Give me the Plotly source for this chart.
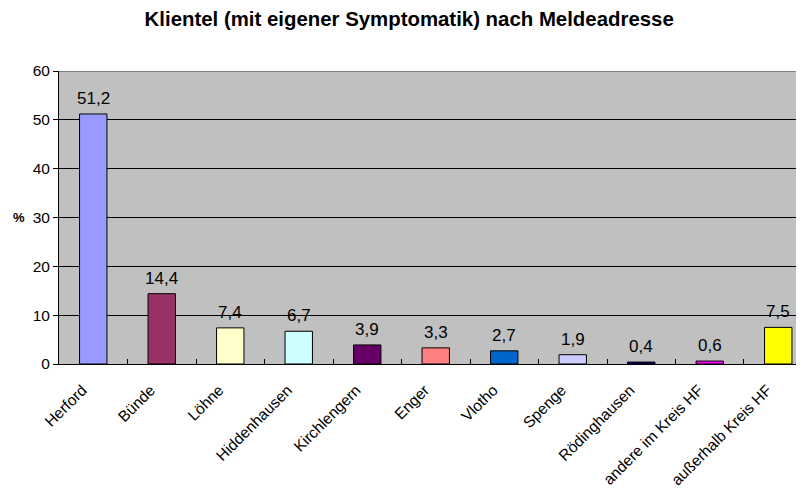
import plotly.graph_objects as go

orte = ["Herford", "Bünde", "Löhne", "Hiddenhausen", "Kirchlengern", "Enger",
        "Vlotho", "Spenge", "Rödinghausen", "andere im Kreis HF", "außerhalb Kreis HF"]
anteil = [51.2, 14.4, 7.4, 6.7, 3.9, 3.3, 2.7, 1.9, 0.4, 0.6, 7.5]
farben = ["#9999FF", "#993366", "#FFFFCC", "#CCFFFF", "#660066", "#FF8080",
          "#0066CC", "#CCCCFF", "#000080", "#FF00FF", "#FFFF00"]
beschriftung = [f"{v:.1f}".replace(".", ",") for v in anteil]

schrift = "Liberation Sans, Arial"

fig = go.Figure()
fig.add_trace(go.Bar(
    x=orte, y=anteil,
    marker=dict(color=farben, line=dict(color="black", width=1)),
    hoverinfo="x+y",
))

# Werte über den Balken
for ort, wert, txt in zip(orte, anteil, beschriftung):
    fig.add_annotation(x=ort, y=wert, text=txt, showarrow=False, yanchor="bottom",
                       yshift=4, font=dict(family=schrift, size=17, color="black"))

# obere Rahmenlinie
fig.add_shape(type="line", xref="paper", yref="y", x0=0, x1=1, y0=60, y1=60,
              line=dict(color="#808080", width=2))

fig.add_annotation(text="<b>%</b>", xref="paper", yref="y", x=-0.044, y=30,
                   showarrow=False, xanchor="right", borderpad=0,
                   font=dict(family=schrift, size=13, color="black"))

fig.update_layout(
    title=dict(text="<b>Klientel (mit eigener Symptomatik) nach Meldeadresse</b>",
               x=0.504, xref="container", y=0.977, yref="container",
               xanchor="center", yanchor="middle",
               font=dict(family=schrift, size=20.4, color="black")),
    width=796, height=487,
    margin=dict(l=51, r=0, t=63, b=131),
    paper_bgcolor="white", plot_bgcolor="#C0C0C0",
    bargap=0.6, showlegend=False,
    font=dict(family=schrift, size=15.5, color="black"),
    xaxis=dict(range=[-0.5, 10.376], tickangle=-45, ticks="inside", tickson="boundaries",
               ticklen=5, tickcolor="black", showline=True, linecolor="black", linewidth=1,
               showgrid=False, tickfont=dict(size=15.5), automargin=False,
               ticklabelstandoff=10, ticklabelshift=-11),
    yaxis=dict(range=[0, 60], dtick=10, ticks="outside", ticklen=5, tickcolor="black",
               showline=True, linecolor="black", linewidth=1,
               gridcolor="black", gridwidth=1, zeroline=False,
               tickfont=dict(size=15.5), automargin=False),
)

fig.write_html("out.html")
